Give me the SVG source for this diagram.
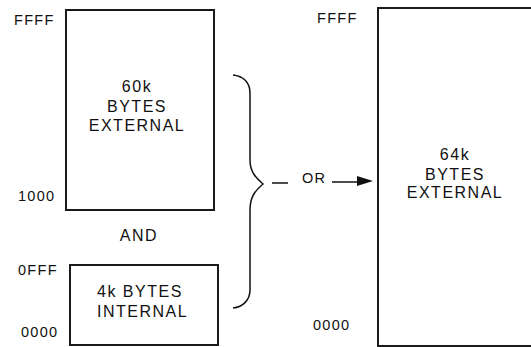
<svg xmlns="http://www.w3.org/2000/svg" width="531" height="347" viewBox="0 0 531 347">
<style>
.box{fill:#fff;stroke:#1a1a1a;stroke-width:2}
.t{font-family:"Liberation Sans",Arial,sans-serif;fill:#111}
.lab{font-size:14.5px;letter-spacing:1.3px}
.in{font-size:16px;letter-spacing:1.5px}
.c{text-anchor:middle}
.ln{fill:none;stroke:#111;stroke-width:1.5}
</style>
<rect width="531" height="347" fill="#fff"/>
<g id="ext60k">
<rect class="box" x="66" y="10" width="148" height="200"/>
<text class="t in c" x="137" y="92">60k</text>
<text class="t in c" x="137" y="112">BYTES</text>
<text class="t in c" x="137" y="131">EXTERNAL</text>
<text class="t lab" x="14" y="25">FFFF</text>
<text class="t lab" x="18" y="201">1000</text>
</g>
<g id="and">
<text class="t in c" x="139" y="241">AND</text>
</g>
<g id="int4k">
<rect class="box" x="70" y="265" width="148" height="80"/>
<text class="t in" x="97" y="297">4k BYTES</text>
<text class="t in" x="97" y="317">INTERNAL</text>
<text class="t lab" x="18" y="275">0FFF</text>
<text class="t lab" x="21" y="337">0000</text>
</g>
<g id="ext64k">
<rect class="box" x="378" y="8" width="160" height="338"/>
<text class="t in c" x="455" y="160">64k</text>
<text class="t in c" x="455" y="180">BYTES</text>
<text class="t in c" x="455" y="198">EXTERNAL</text>
<text class="t lab" x="317" y="23">FFFF</text>
<text class="t lab" x="313" y="330">0000</text>
</g>
<g id="connectors">
<path class="ln" d="M233,75 C243,76 250,82 250,93 L250,160 C250,172 256,178 263,184 C256,190 250,196 250,210 L250,290 C250,300 243,307 233,308"/>
<line class="ln" x1="272" y1="183" x2="288" y2="183"/>
<text class="t lab" x="302" y="183">OR</text>
<line class="ln" x1="332" y1="182" x2="360" y2="182"/>
<polygon points="357,176 373,181 357,186" fill="#111"/>
</g>
</svg>
